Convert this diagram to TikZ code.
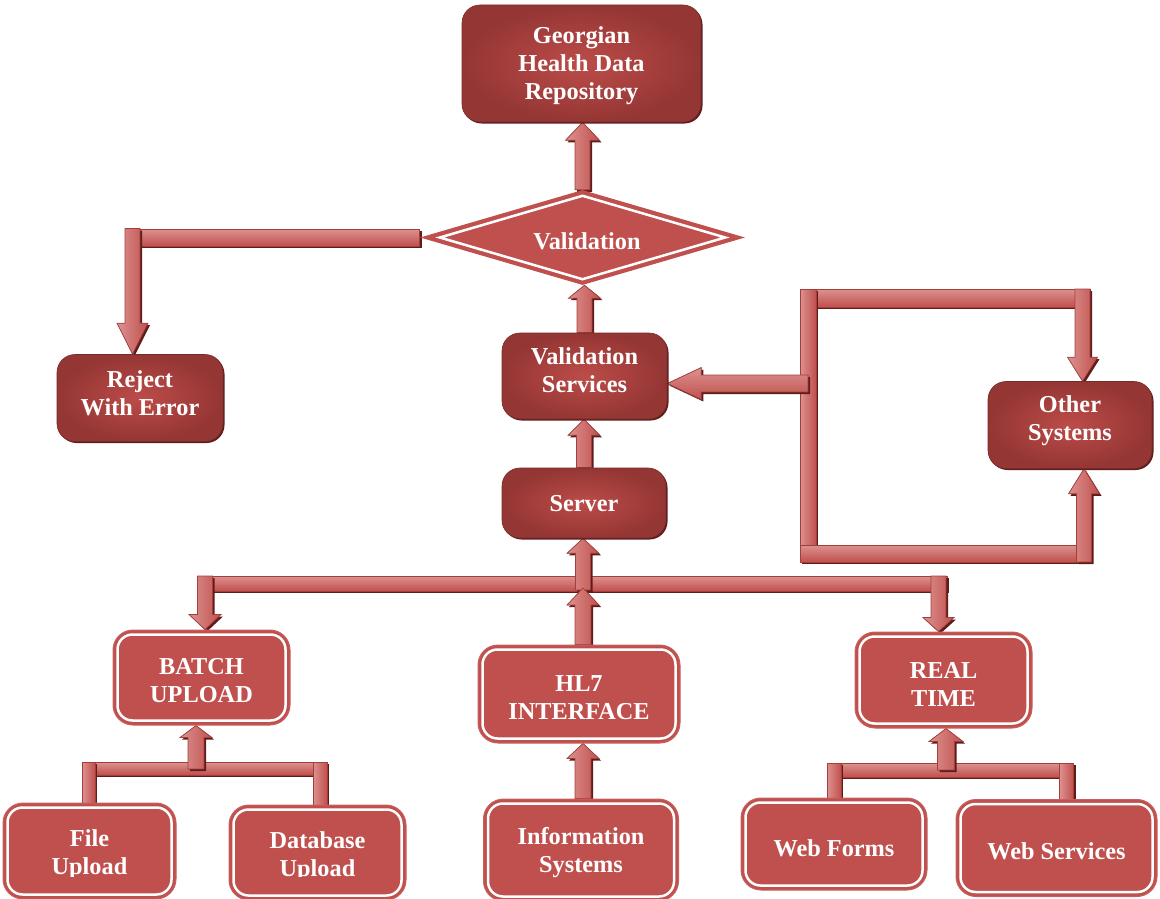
\documentclass[tikz,border=0pt]{standalone}
\usepackage{fontspec}
\setmainfont{Liberation Serif}
\usetikzlibrary{shapes.geometric,calc,backgrounds}
\definecolor{base}{HTML}{C0504D}
\definecolor{darkout}{HTML}{943634}
\definecolor{darkin}{HTML}{BC4C49}
\definecolor{alight}{HTML}{DC9290}
\definecolor{aborder}{HTML}{A33E3B}
\definecolor{shad}{HTML}{5E1C1B}
\tikzset{
  boxtext/.style={text=white, font=\bfseries\fontsize{24.3pt}{28pt}\selectfont, align=center, inner sep=0pt},
  darkbox/.style={rectangle, rounded corners=18pt, inner color=darkin, outer color=darkout,
    draw=darkout!80!black, line width=0.6pt,
    preaction={fill=shad, transform canvas={shift={(1.5,1.5)}}}},
  lightbox/.style={rectangle, rounded corners=20pt, fill=base, draw=base!90!white, line width=1pt},
  innerline/.style={draw=white, line width=2.5pt, rounded corners=15pt},
  conn/.style={draw=aborder, line width=0.7pt, preaction={fill=shad, transform canvas={shift={(2,2)}}}},
  vert/.style={left color=alight, right color=base},
  horiz/.style={top color=alight, bottom color=base},
}
% block arrow: [style]{tail}{tip}{head length}{head half width}{shaft half width}
\newcommand\barrow[6][]{%
  \coordinate (bt) at #2; \coordinate (bp) at #3;
  \coordinate (bh) at ($(bp)!#4pt!(bt)$);
  \filldraw[conn,#1] ($(bt)!#6pt!90:(bp)$) -- ($(bh)!#6pt!90:(bp)$) -- ($(bh)!#5pt!90:(bp)$) -- (bp)
    -- ($(bh)!#5pt!-90:(bp)$) -- ($(bh)!#6pt!-90:(bp)$) -- ($(bt)!#6pt!-90:(bp)$) -- cycle;}
% bar: [style]{a}{b}{half width}
\newcommand\bbar[4][]{%
  \coordinate (ba) at #2; \coordinate (bb) at #3;
  \filldraw[conn,#1] ($(ba)!#4pt!90:(bb)$) -- ($(bb)!#4pt!-90:(ba)$) -- ($(bb)!#4pt!90:(ba)$) -- ($(ba)!#4pt!-90:(bb)$) -- cycle;}
\newcommand\innerbox[1]{\draw[innerline] ($(#1.north west)+(5,5)$) rectangle ($(#1.south east)+(-5,-5)$);}
\begin{document}
\begin{tikzpicture}[x=1pt,y=-1pt]
\useasboundingbox (0,0) rectangle (1160,899);
\clip (0,0) rectangle (1160,899);
% dark boxes
\node[darkbox, minimum width=239pt, minimum height=117pt] (geo) at (581.5,63.5) {};
\node[boxtext] (geo-t) at ($(geo)+(0,2.5)$) {Georgian\\Health Data\\Repository};
\node[shape=diamond, fill=base, minimum width=325pt, minimum height=95pt, inner sep=0pt] (valid) at (582.5,237.5) {};
\draw[draw=white, line width=2.5pt] ($(valid.west)+(20,0)$) -- ($(valid.north)+(0,6)$) -- ($(valid.east)+(-20,0)$) -- ($(valid.south)+(0,-6)$) -- cycle;
\node[boxtext] (valid-t) at (587,241) {Validation};
\node[darkbox, minimum width=166pt, minimum height=87pt] (rej) at (140,398) {};
\node[boxtext] (rej-t) at ($(rej)+(0,-5)$) {Reject\\With Error};
\node[darkbox, minimum width=165pt, minimum height=86pt] (vs) at (584.5,376) {};
\node[boxtext] (vs-t) at ($(vs)+(0,-6)$) {Validation\\Services};
\node[darkbox, minimum width=164pt, minimum height=70pt] (srv) at (584,503) {};
\node[boxtext] (srv-t) at ($(srv)+(0,1)$) {Server};
\node[darkbox, minimum width=164pt, minimum height=87pt] (oth) at (1070,425) {};
\node[boxtext] (oth-t) at ($(oth)+(0,-4)$) {Other\\Systems};
% light boxes
\node[lightbox, minimum width=177pt, minimum height=95pt] (batch) at (201.5,677.5) {};
\node[lightbox, minimum width=202pt, minimum height=98pt] (hl7) at (579,694) {};
\node[lightbox, minimum width=177pt, minimum height=96pt] (rt) at (943.5,680) {};
\node[lightbox, minimum width=173pt, minimum height=96pt] (file) at (89.5,851) {};
\node[lightbox, minimum width=177pt, minimum height=95pt] (db) at (317.5,852.5) {};
\node[lightbox, minimum width=195pt, minimum height=102pt] (info) at (581,850) {};
\node[lightbox, minimum width=186pt, minimum height=92pt] (wf) at (834,844) {};
\node[lightbox, minimum width=201pt, minimum height=97pt] (ws) at (1056.5,848) {};
\foreach \n in {batch,hl7,rt,file,db,info,wf,ws} {\innerbox{\n}}
\node[boxtext] (batch-t) at ($(batch)+(0,3)$) {BATCH\\UPLOAD};
\node[boxtext] (hl7-t) at ($(hl7)+(0,4)$) {HL7\\INTERFACE};
\node[boxtext] (rt-t) at ($(rt)+(0,4)$) {REAL\\TIME};
\begin{scope}
\clip (0,0) rectangle (420,876);
\node[boxtext] (file-t) at (89.5,855) {File\\Upload};
\node[boxtext] (db-t) at (317.5,857) {Database\\Upload};
\end{scope}
\node[boxtext] (info-t) at ($(info)+(0,3)$) {Information\\Systems};
\node[boxtext] (wf-t) at (834,848) {Web Forms};
\node[boxtext] (ws-t) at (1056.5,851) {Web Services};
% junction coordinates
\coordinate (rjc) at (132.5,237.5);
\coordinate (lpc) at (808,383.5);
\coordinate (ltop) at (808,289);
\coordinate (lbot) at (808,562);
\coordinate (tl) at (800,298);
\coordinate (tr) at (1090,298);
\coordinate (odn) at (1082.5,289);
\coordinate (bl) at (800,553.5);
\coordinate (br) at (1091,553.5);
\coordinate (oup) at (1084,562);
\coordinate (mbl) at (197,583.5);
\coordinate (mbr) at (947,583.5);
\coordinate (mdl) at (205,576);
\coordinate (mdr) at (938.5,576);
\coordinate (mbc) at (583,590);
\coordinate (bsc) at (196,769);
\coordinate (bsl) at (82,768.5);
\coordinate (bsr) at (327,768.5);
\coordinate (bstl) at (88.5,762);
\coordinate (bstr) at (320,762);
\coordinate (rsc) at (946,770);
\coordinate (rsl) at (827,770);
\coordinate (rsr) at (1073,770);
\coordinate (rstl) at (834,763);
\coordinate (rstr) at (1066.5,763);
\begin{scope}[on background layer]
% top column
\barrow[vert]{(valid.north)}{(valid.north |- geo.south)}{18}{17}{7.5}
\barrow[vert]{(vs.north)}{(vs.north |- valid.south)}{13}{16}{7.5}
\barrow[vert]{(srv.north)}{(srv.north |- vs.south)}{16}{16}{7.5}
% reject
\bbar[horiz]{(valid.west)}{($(rjc)+(-7.5,0)$)}{8.5}
\barrow[vert]{($(rjc)+(0,-9)$)}{(rjc |- rej.north)}{31}{15.5}{7.5}
% loop to other systems
\bbar[horiz]{(tl)}{(tr)}{9}
\bbar[vert]{(ltop)}{(lbot)}{8}
\bbar[horiz]{(bl)}{(br)}{8.5}
\barrow[vert]{(odn)}{(odn |- oth.north)}{24}{15}{7.5}
\barrow[vert]{(oup)}{(oup |- oth.south)}{25}{15.5}{7.5}
\barrow[horiz]{(lpc)}{(vs.east |- lpc)}{34}{16}{8.5}
% main distribution bar
\bbar[horiz]{(mbl)}{(mbr)}{7.5}
\barrow[vert]{(mdl)}{(mdl |- batch.north)}{15}{16}{7.5}
\barrow[vert]{(mdr)}{(mdr |- rt.north)}{14}{15.5}{7.5}
\barrow[vert]{(mbc)}{(mbc |- srv.south)}{15}{16}{7.5}
\barrow[vert]{(mbc |- hl7.north)}{($(mbc)+(0,-2)$)}{17}{16}{8}
\barrow[vert]{(mbc |- info.north)}{(mbc |- hl7.south)}{15}{16}{8}
% batch sub tree
\bbar[horiz]{(bsl)}{(bsr)}{6.5}
\bbar[vert]{(bstl)}{($(bstl |- file.north)+(0,3)$)}{6.5}
\bbar[vert]{(bstr)}{($(bstr |- db.north)+(0,3)$)}{7}
\barrow[vert]{(bsc)}{(bsc |- batch.south)}{12}{16}{8}
% real time sub tree
\bbar[horiz]{(rsl)}{(rsr)}{7}
\bbar[vert]{(rstl)}{($(rstl |- wf.north)+(0,4)$)}{7}
\bbar[vert]{(rstr)}{($(rstr |- ws.north)+(0,3)$)}{7}
\barrow[vert]{(rsc)}{(rsc |- rt.south)}{13}{17}{8.5}
\end{scope}
\end{tikzpicture}
\end{document}
